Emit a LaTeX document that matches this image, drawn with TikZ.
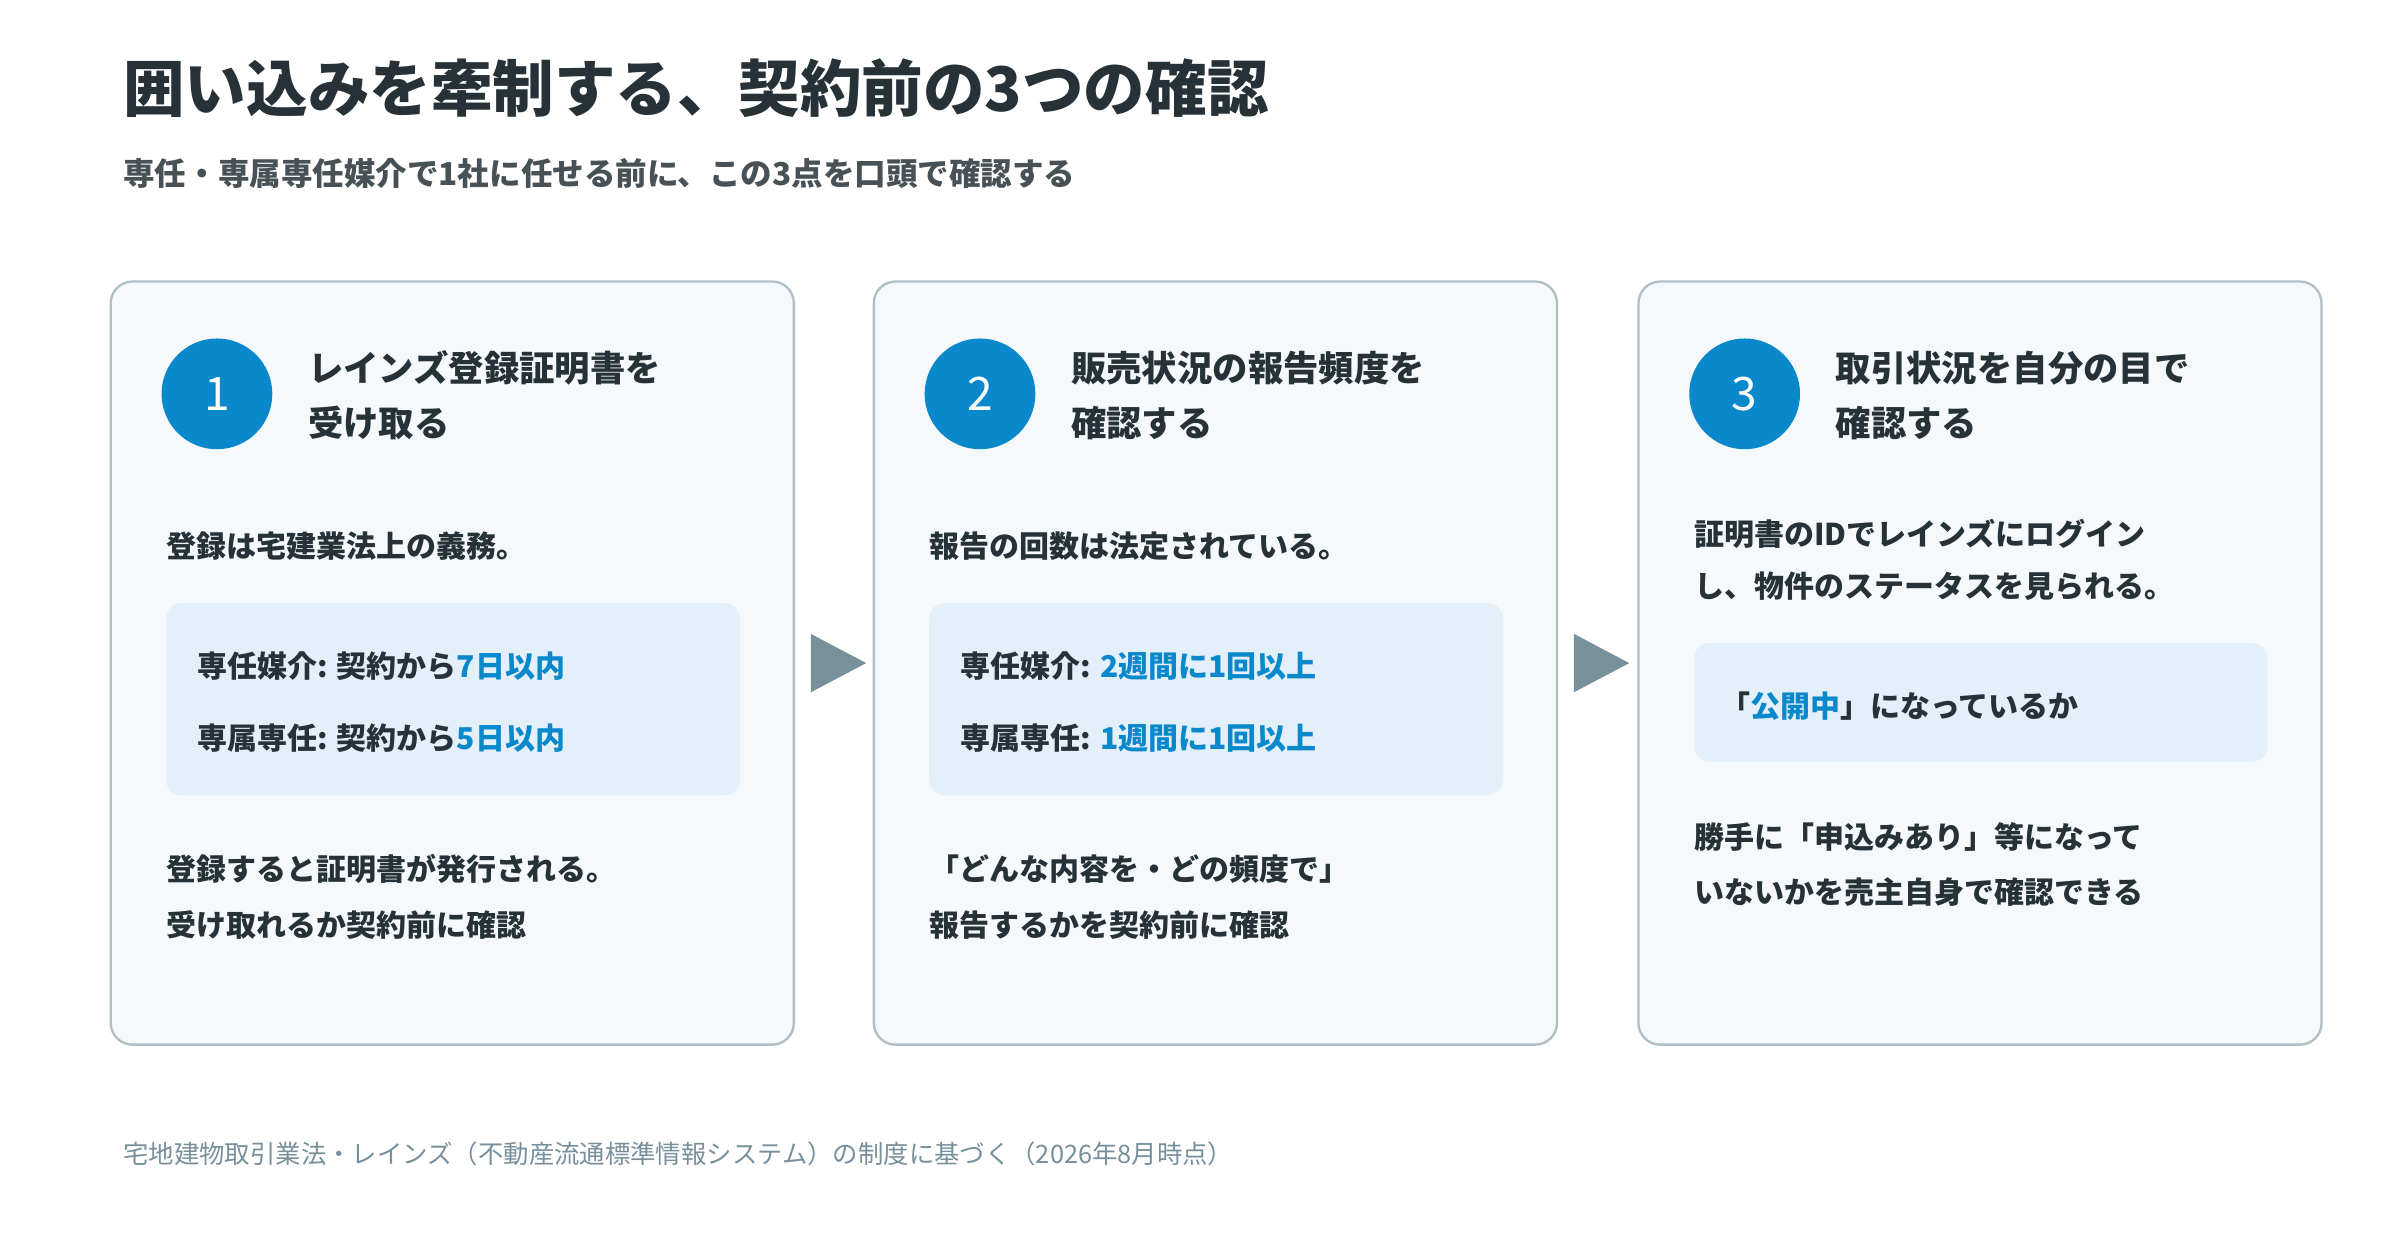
\documentclass[tikz,border=0pt]{standalone}
\usepackage{fontspec}
\setmainfont{Noto Sans CJK JP}
\newfontfamily\jpb{Noto Sans CJK JP Bold}
\definecolor{ink}{HTML}{263238}
\definecolor{acc}{HTML}{0A88CC}
\definecolor{gr}{HTML}{78909C}
\definecolor{bd}{HTML}{B0BEC5}
\definecolor{cardf}{HTML}{F5F9FC}
\definecolor{boxf}{HTML}{E3F0FA}
\begin{document}
\begin{tikzpicture}[x=1pt,y=-1pt,
 card/.style={draw=bd,line width=1.5pt,fill=cardf,rounded corners=14pt},
 ibox/.style={fill=boxf,rounded corners=10pt},
 num/.style={circle,fill=acc,minimum size=72pt,inner sep=0pt,text=white,font=\fontsize{30}{30}\selectfont},
 head/.style={anchor=west,text=ink,font=\fontsize{23}{36}\selectfont\bfseries,align=left,inner sep=0pt},
 txt/.style={anchor=west,text=ink,font=\fontsize{19.5}{36}\selectfont\bfseries,align=left,inner sep=0pt},
 tri/.style={fill=gr,draw=none}]
\fill[white] (0,0) rectangle (1560,806);
\node[anchor=west,text=ink,inner sep=0pt,font=\fontsize{40}{40}\selectfont\bfseries] (title) at (80,57) {囲い込みを牽制する、契約前の3つの確認};
\node[anchor=west,text=ink!85,inner sep=0pt,font=\fontsize{20.5}{20}\selectfont\bfseries] (sub) at (80,113) {専任・専属専任媒介で1社に任せる前に、この3点を口頭で確認する};
% cards
\foreach \x/\n in {72/c1,568/c2,1065/c3}{
 \draw[card] (\x,183) rectangle ++(444,496);
}
% arrows
\fill[tri] (527,412) -- (563,431) -- (527,450) -- cycle;
\fill[tri] (1023,412) -- (1059,431) -- (1023,450) -- cycle;
% card 1
\node[num] (n1) at (141,256) {1};
\node[head] (h1) at (200,257) {レインズ登録証明書を\\受け取る};
\node[txt] (b1) at (108,355) {登録は宅建業法上の義務。};
\fill[ibox] (108,392) rectangle (481,517);
\node[txt] (l1a) at (128,433) {専任媒介: 契約から\textcolor{acc}{7日以内}};
\node[txt] (l1b) at (128,480) {専属専任: 契約から\textcolor{acc}{5日以内}};
\node[txt] (f1) at (108,583) {登録すると証明書が発行される。\\受け取れるか契約前に確認};
% card 2
\node[num] (n2) at (637,256) {2};
\node[head] (h2) at (696,257) {販売状況の報告頻度を\\確認する};
\node[txt] (b2) at (604,355) {報告の回数は法定されている。};
\fill[ibox] (604,392) rectangle (977,517);
\node[txt] (l2a) at (624,433) {専任媒介: \textcolor{acc}{2週間に1回以上}};
\node[txt] (l2b) at (624,480) {専属専任: \textcolor{acc}{1週間に1回以上}};
\node[txt] (f2) at (604,583) {「どんな内容を・どの頻度で」\\報告するかを契約前に確認};
% card 3
\node[num] (n3) at (1134,256) {3};
\node[head] (h3) at (1193,257) {取引状況を自分の目で\\確認する};
\node[txt,font=\fontsize{19.5}{34}\selectfont\bfseries] (b3) at (1101,364) {証明書のIDでレインズにログイン\\し、物件のステータスを見られる。};
\fill[ibox] (1101,418) rectangle (1474,495);
\node[txt] (l3) at (1118,459) {「\textcolor{acc}{公開中}」になっているか};
\node[txt] (f3) at (1101,562) {勝手に「申込みあり」等になって\\いないかを売主自身で確認できる};
% footer
\node[anchor=west,text=gr,inner sep=0pt,font=\fontsize{16.5}{16}\selectfont] (foot) at (80,750) {宅地建物取引業法・レインズ（不動産流通標準情報システム）の制度に基づく（2026年8月時点）};
\end{tikzpicture}
\end{document}
